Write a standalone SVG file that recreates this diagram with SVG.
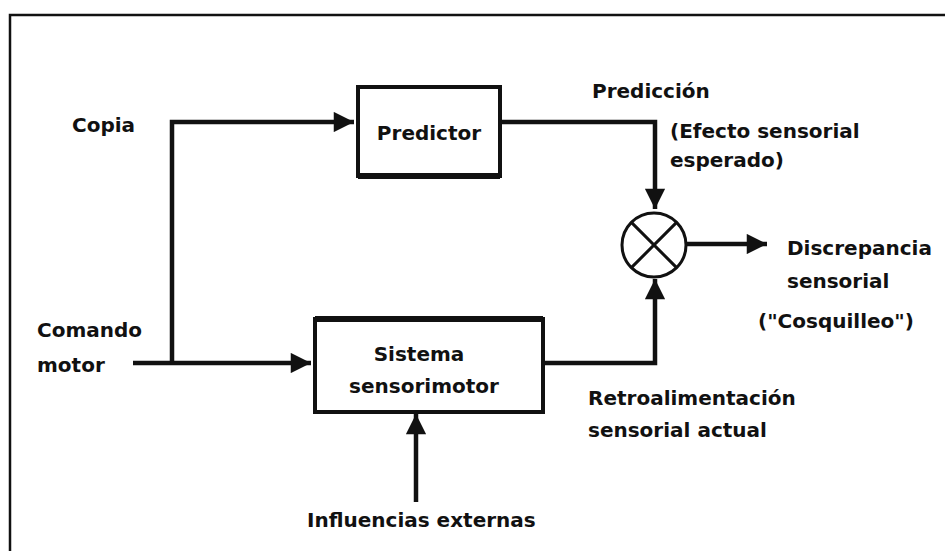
<svg xmlns="http://www.w3.org/2000/svg" width="945" height="551" viewBox="0 0 945 551">
  <defs>
    <marker id="arrow" viewBox="0 0 10 10" refX="10" refY="5" markerWidth="5" markerHeight="4.5" markerUnits="strokeWidth" orient="auto">
      <path d="M0,0 L10,5 L0,10 z" fill="#111"/>
    </marker>
    <style>
      .lbl { font-family: "DejaVu Sans", Verdana, sans-serif; font-weight: bold; font-size: 20px; fill: #111; }
      .box { fill: #fff; stroke: #111; stroke-width: 4; }
      .wire { fill: none; stroke: #111; stroke-width: 4.5; }
      .arr { marker-end: url(#arrow); }
    </style>
  </defs>

  <rect width="945" height="551" fill="#fff"/>
  <!-- outer frame -->
  <rect x="10" y="15" width="960" height="560" fill="none" stroke="#111" stroke-width="2.5"/>

  <g id="connectors">
    <!-- motor command into sensorimotor system -->
    <path class="wire arr" d="M133,363 L311,363"/>
    <!-- efference copy to predictor -->
    <path class="wire arr" d="M172,363 L172,122 L354,122"/>
    <!-- prediction down into comparator -->
    <path class="wire arr" d="M501,122 L655,122 L655,209"/>
    <!-- actual feedback up into comparator -->
    <path class="wire arr" d="M544,363 L655,363 L655,279"/>
    <!-- discrepancy output -->
    <path class="wire arr" d="M687,244 L767,244"/>
    <!-- external influences -->
    <path class="wire arr" d="M416,502 L416,414"/>
  </g>

  <g id="predictor">
    <rect class="box" x="358" y="87" width="142" height="89"/>
    <path d="M358,176 L500,176" stroke="#111" stroke-width="6"/>
    <text class="lbl" x="429" y="140" text-anchor="middle">Predictor</text>
  </g>

  <g id="sensorimotor">
    <rect class="box" x="315" y="319" width="228" height="93"/>
    <path d="M315,319 L543,319" stroke="#111" stroke-width="6"/>
    <text class="lbl" x="419" y="361" text-anchor="middle">Sistema</text>
    <text class="lbl" x="424" y="393" text-anchor="middle">sensorimotor</text>
  </g>

  <g id="comparator">
    <circle cx="654" cy="245" r="32" fill="#fff" stroke="#111" stroke-width="3"/>
    <path d="M631.4,222.4 L676.6,267.6 M676.6,222.4 L631.4,267.6" stroke="#111" stroke-width="3"/>
  </g>

  <g id="labels">
    <text class="lbl" x="72" y="132">Copia</text>
    <text class="lbl" x="37" y="337">Comando</text>
    <text class="lbl" x="37" y="372">motor</text>
    <text class="lbl" x="592" y="98">Predicción</text>
    <text class="lbl" x="670" y="138">(Efecto sensorial</text>
    <text class="lbl" x="670" y="167">esperado)</text>
    <text class="lbl" x="787" y="255">Discrepancia</text>
    <text class="lbl" x="787" y="288">sensorial</text>
    <text class="lbl" x="758" y="328">("Cosquilleo")</text>
    <text class="lbl" x="588" y="405">Retroalimentación</text>
    <text class="lbl" x="588" y="437">sensorial actual</text>
    <text class="lbl" x="307" y="527">Influencias externas</text>
  </g>
</svg>
